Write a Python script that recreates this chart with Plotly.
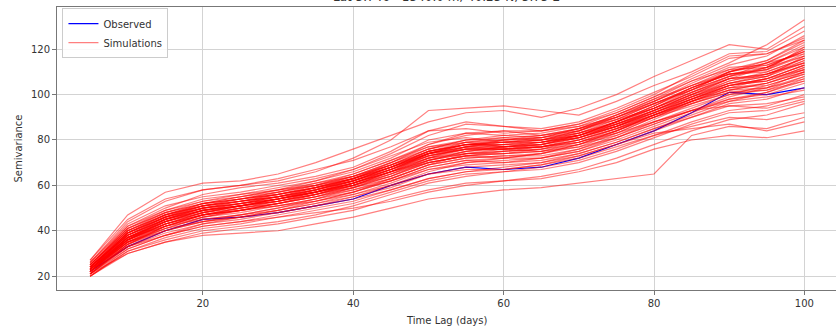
import plotly.graph_objects as go

lags = [5, 10, 15, 20, 25, 30, 35, 40, 45, 50, 55, 60, 65, 70, 75, 80, 85, 90, 95, 100]

observed = [22, 33, 40, 45, 46, 48, 51, 54, 60, 65, 68, 67, 68, 72, 78, 84, 92, 101, 100, 103]

sim_01 = [27, 47, 57, 61, 62, 65, 70, 76, 82, 88, 92, 93, 90, 94, 100, 108, 115, 122, 120, 130]
sim_02 = [26, 44, 53, 58, 60, 62, 66, 72, 80, 93, 94, 95, 93, 91, 97, 104, 110, 118, 119, 128]
sim_03 = [25, 42, 50, 56, 59, 61, 64, 68, 75, 84, 85, 83, 84, 87, 92, 99, 107, 114, 122, 133]
sim_04 = [24, 40, 48, 53, 56, 59, 62, 66, 72, 80, 83, 82, 81, 85, 90, 97, 104, 110, 115, 124]
sim_05 = [23, 39, 46, 52, 54, 57, 61, 65, 71, 78, 82, 84, 82, 84, 89, 96, 103, 109, 112, 120]
sim_06 = [24, 38, 45, 50, 53, 55, 58, 63, 69, 76, 80, 81, 80, 82, 88, 94, 101, 108, 114, 118]
sim_07 = [22, 37, 44, 49, 52, 54, 57, 61, 67, 74, 78, 78, 79, 81, 86, 92, 99, 106, 110, 116]
sim_08 = [23, 36, 43, 48, 51, 53, 56, 60, 66, 72, 76, 77, 77, 79, 84, 91, 98, 104, 106, 112]
sim_09 = [22, 35, 42, 47, 50, 52, 55, 59, 64, 71, 74, 75, 76, 78, 82, 89, 96, 102, 105, 110]
sim_10 = [21, 34, 41, 46, 48, 51, 54, 58, 63, 69, 72, 73, 74, 77, 81, 88, 94, 100, 102, 108]
sim_11 = [21, 33, 40, 45, 47, 50, 53, 56, 61, 67, 70, 71, 72, 75, 80, 86, 92, 98, 100, 105]
sim_12 = [20, 32, 38, 43, 45, 48, 51, 55, 59, 65, 68, 69, 70, 73, 78, 84, 90, 96, 98, 103]
sim_13 = [20, 31, 37, 41, 43, 46, 49, 52, 57, 62, 65, 66, 68, 71, 76, 82, 88, 93, 95, 100]
sim_14 = [20, 30, 35, 39, 41, 43, 46, 49, 54, 58, 61, 62, 64, 67, 72, 78, 84, 89, 91, 96]
sim_15 = [21, 30, 35, 38, 39, 40, 43, 46, 50, 54, 56, 58, 59, 61, 63, 65, 82, 86, 85, 90]
sim_16 = [22, 33, 38, 42, 44, 46, 48, 50, 53, 57, 60, 62, 63, 66, 70, 76, 80, 82, 81, 84]
sim_17 = [23, 35, 41, 44, 46, 48, 51, 54, 58, 63, 66, 67, 69, 73, 78, 83, 85, 87, 84, 88]
sim_18 = [24, 38, 46, 51, 53, 55, 57, 60, 64, 70, 73, 72, 72, 75, 81, 87, 93, 95, 94, 98]
sim_19 = [25, 41, 49, 54, 56, 58, 60, 63, 68, 74, 77, 76, 75, 77, 83, 90, 97, 103, 107, 113]
sim_20 = [26, 43, 51, 55, 57, 60, 63, 67, 73, 79, 81, 79, 80, 83, 88, 95, 102, 108, 111, 121]
sim_21 = [22, 36, 45, 51, 54, 56, 59, 62, 67, 73, 77, 79, 80, 82, 86, 93, 100, 107, 108, 115]
sim_22 = [23, 37, 42, 46, 49, 52, 56, 61, 66, 70, 73, 74, 76, 80, 85, 90, 95, 100, 104, 109]
sim_23 = [21, 34, 42, 47, 49, 51, 53, 57, 62, 68, 71, 70, 71, 74, 79, 85, 91, 97, 101, 106]
sim_24 = [24, 39, 47, 52, 55, 58, 61, 64, 70, 77, 79, 77, 78, 81, 87, 93, 99, 105, 109, 114]
sim_25 = [22, 36, 43, 47, 50, 53, 57, 62, 68, 75, 79, 80, 81, 84, 90, 97, 105, 112, 113, 119]
sim_26 = [25, 40, 47, 51, 54, 57, 60, 64, 69, 75, 78, 79, 80, 84, 91, 98, 106, 113, 117, 126]
sim_27 = [23, 37, 44, 48, 50, 52, 55, 58, 62, 67, 69, 70, 72, 76, 82, 88, 93, 97, 99, 102]
sim_28 = [21, 33, 39, 43, 46, 49, 52, 56, 60, 65, 67, 67, 69, 72, 77, 82, 86, 90, 89, 92]
sim_29 = [22, 35, 40, 44, 47, 50, 54, 59, 65, 71, 75, 76, 77, 79, 83, 88, 93, 98, 101, 107]
sim_30 = [24, 38, 45, 49, 51, 54, 58, 63, 70, 78, 83, 84, 84, 86, 90, 96, 102, 110, 114, 122]
sim_31 = [26, 42, 49, 53, 55, 58, 62, 67, 74, 82, 87, 86, 85, 88, 94, 101, 108, 116, 118, 125]
sim_32 = [23, 36, 42, 45, 47, 49, 52, 55, 60, 66, 70, 72, 74, 78, 84, 91, 97, 104, 107, 111]
sim_33 = [20, 31, 36, 40, 42, 44, 47, 51, 56, 61, 64, 66, 67, 70, 75, 81, 87, 92, 93, 97]
sim_34 = [22, 34, 40, 44, 46, 49, 53, 57, 63, 69, 72, 73, 73, 76, 81, 87, 93, 99, 103, 110]
sim_35 = [25, 41, 48, 52, 54, 56, 59, 63, 69, 76, 80, 82, 83, 86, 92, 99, 106, 111, 112, 117]
sim_36 = [24, 39, 46, 50, 52, 54, 57, 61, 67, 74, 78, 80, 82, 85, 89, 94, 100, 105, 106, 112]
sim_37 = [27, 45, 54, 58, 60, 63, 67, 71, 77, 84, 88, 86, 84, 87, 93, 100, 109, 117, 118, 124]
sim_38 = [21, 32, 38, 42, 44, 47, 50, 53, 58, 63, 66, 68, 70, 74, 79, 85, 90, 95, 96, 99]
sim_39 = [23, 37, 43, 47, 49, 51, 54, 57, 62, 68, 71, 72, 74, 78, 84, 90, 96, 101, 102, 106]
sim_40 = [22, 35, 41, 46, 49, 52, 55, 60, 66, 73, 76, 76, 77, 80, 86, 92, 98, 104, 107, 113]
sim_41 = [23, 38, 45, 50, 52, 55, 58, 62, 68, 74, 77, 78, 79, 82, 87, 93, 100, 106, 109, 115]
sim_42 = [24, 39, 46, 51, 53, 56, 59, 63, 68, 73, 76, 76, 78, 81, 86, 92, 98, 103, 105, 111]
sim_43 = [22, 36, 44, 49, 51, 54, 57, 61, 66, 72, 75, 77, 79, 83, 88, 94, 101, 107, 109, 114]
sim_44 = [23, 37, 45, 49, 52, 55, 59, 64, 70, 76, 79, 79, 79, 82, 88, 95, 103, 109, 111, 118]
sim_45 = [24, 40, 47, 52, 55, 57, 60, 64, 69, 75, 78, 77, 78, 82, 88, 95, 103, 110, 114, 121]
sim_46 = [21, 35, 43, 48, 51, 54, 57, 61, 66, 71, 74, 75, 76, 79, 84, 91, 98, 105, 108, 114]
sim_47 = [25, 40, 47, 51, 53, 55, 58, 62, 67, 73, 76, 78, 80, 84, 90, 96, 102, 108, 112, 119]
sim_48 = [22, 35, 42, 47, 50, 53, 56, 60, 65, 70, 73, 74, 75, 78, 83, 90, 97, 103, 104, 109]
sim_49 = [23, 38, 46, 50, 52, 54, 57, 60, 65, 72, 77, 80, 81, 83, 87, 92, 98, 104, 107, 113]
sim_50 = [24, 37, 44, 49, 51, 53, 56, 60, 66, 74, 79, 81, 82, 85, 91, 97, 104, 111, 115, 123]
sim_51 = [22, 36, 44, 48, 51, 53, 56, 59, 63, 69, 74, 76, 77, 80, 85, 91, 97, 102, 105, 110]
sim_52 = [23, 39, 47, 51, 53, 56, 60, 65, 71, 77, 80, 80, 80, 83, 89, 96, 103, 109, 110, 116]
sim_53 = [24, 38, 45, 49, 51, 54, 57, 62, 68, 75, 78, 79, 81, 85, 91, 98, 104, 109, 111, 117]
sim_54 = [21, 34, 42, 47, 49, 52, 55, 59, 64, 70, 73, 75, 77, 81, 87, 93, 99, 104, 106, 111]
sim_55 = [25, 41, 48, 52, 54, 56, 59, 63, 68, 74, 77, 77, 78, 82, 88, 94, 101, 107, 109, 116]
sim_56 = [22, 37, 45, 50, 53, 55, 58, 62, 67, 72, 74, 74, 75, 79, 85, 92, 99, 105, 108, 117]
sim_57 = [23, 36, 43, 47, 49, 52, 56, 61, 67, 74, 78, 79, 79, 81, 86, 93, 100, 107, 112, 120]
sim_58 = [24, 39, 46, 50, 52, 55, 59, 63, 69, 74, 76, 76, 77, 80, 85, 91, 97, 102, 103, 107]
sim_59 = [22, 36, 43, 48, 51, 54, 58, 62, 68, 75, 78, 78, 78, 81, 86, 91, 96, 101, 103, 108]
sim_60 = [23, 37, 44, 49, 51, 53, 57, 61, 66, 71, 75, 77, 79, 82, 87, 94, 102, 110, 113, 119]

simulations = [sim_01, sim_02, sim_03, sim_04, sim_05, sim_06, sim_07, sim_08, sim_09, sim_10,
               sim_11, sim_12, sim_13, sim_14, sim_15, sim_16, sim_17, sim_18, sim_19, sim_20,
               sim_21, sim_22, sim_23, sim_24, sim_25, sim_26, sim_27, sim_28, sim_29, sim_30,
               sim_31, sim_32, sim_33, sim_34, sim_35, sim_36, sim_37, sim_38, sim_39, sim_40,
               sim_41, sim_42, sim_43, sim_44, sim_45, sim_46, sim_47, sim_48, sim_49, sim_50,
               sim_51, sim_52, sim_53, sim_54, sim_55, sim_56, sim_57, sim_58, sim_59, sim_60]

title_text = "Lat 3.746 - 1340.0 m, 40.25 N, 3.75 E"
x_title = "Time Lag (days)"
y_title = "Semivariance"
FONT = "DejaVu Sans"
TXT = "#333333"

fig = go.Figure()
fig.add_trace(go.Scatter(x=lags, y=observed, mode="lines", name="Observed",
                         line=dict(color="#0000ff", width=1.2)))
for i, s in enumerate(simulations):
    fig.add_trace(go.Scatter(x=lags, y=s, mode="lines", name="Simulations",
                             legendgroup="sim", showlegend=(i == 0),
                             line=dict(color="rgba(255,0,0,0.5)", width=1.2)))

axis_common = dict(showgrid=True, gridcolor="#d3d3d3", gridwidth=1,
                   showline=True, linecolor="#777777", linewidth=1, mirror=True,
                   ticks="outside", ticklen=4, tickcolor="#777777",
                   tickfont=dict(family=FONT, size=10, color=TXT),
                   zeroline=False, automargin=False)

fig.update_layout(
    width=836, height=329,
    margin=dict(l=57, r=0, t=7, b=39),
    paper_bgcolor="white", plot_bgcolor="white",
    font=dict(family=FONT, size=10, color=TXT),
    xaxis=dict(range=[0.6, 104.2], tickvals=[20, 40, 60, 80, 100], **axis_common),
    yaxis=dict(range=[13.9, 138.6], tickvals=[20, 40, 60, 80, 100, 120], **axis_common),
    legend=dict(x=0.007, y=0.996, xanchor="left", yanchor="top",
                bgcolor="rgba(255,255,255,0.85)", bordercolor="#cccccc", borderwidth=1,
                font=dict(family=FONT, size=10, color=TXT), tracegroupgap=0),
    showlegend=True,
    annotations=[
        dict(text=title_text, xref="paper", yref="paper", x=0.5, y=1.002,
             xanchor="center", yanchor="bottom", showarrow=False,
             font=dict(family=FONT, size=12, color=TXT)),
        dict(text=x_title, xref="paper", yref="paper", x=0.5, y=-0.1095,
             xanchor="center", yanchor="middle", showarrow=False,
             font=dict(family=FONT, size=10, color=TXT)),
        dict(text=y_title, xref="paper", yref="paper", x=-0.05, y=0.5,
             xanchor="center", yanchor="middle", showarrow=False, textangle=-90,
             font=dict(family=FONT, size=10, color=TXT)),
    ],
)

fig.write_html("out.html", config={"displayModeBar": False},
               post_script="document.body.style.margin='0';document.body.style.overflow='hidden';")
